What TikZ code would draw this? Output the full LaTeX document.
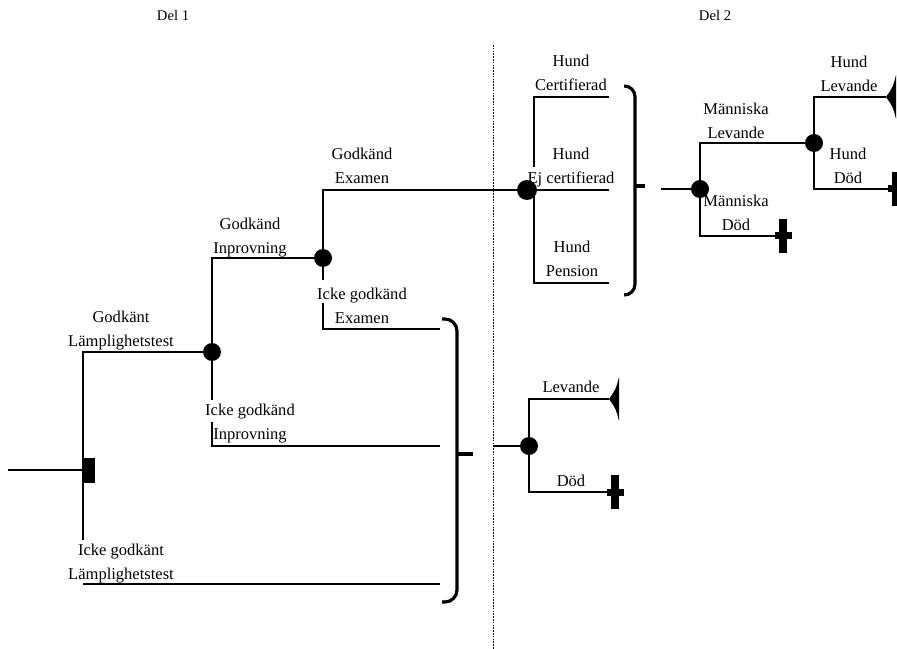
\documentclass[tikz,border=0pt]{standalone}
\usepackage{fontspec}
\setmainfont{Liberation Serif}
\usetikzlibrary{backgrounds}
\newcommand{\lblfont}{\fontsize{12.4pt}{18pt}\selectfont}
\newcommand{\delfont}{\fontsize{11pt}{14pt}\selectfont}
\newcommand{\twoln}[2]{\strut #1\\\strut #2}
\tikzset{
  chance/.style={circle,fill=black,inner sep=0pt,minimum size=13.5pt},
  bigchance/.style={circle,fill=black,inner sep=0pt,minimum size=15pt},
  decision/.style={rectangle,fill=black,inner sep=0pt,minimum width=9pt,minimum height=18.75pt},
  lbl/.style={align=center,inner sep=0pt,font=\lblfont},
  dellbl/.style={inner sep=0pt,font=\delfont},
  branch/.style={line width=1.3pt},
  bracket/.style={line width=2.4pt},
  divider/.style={line width=0.6pt,dash pattern=on 1.2pt off 0.9pt},
  lifemark/.pic={\fill (0,0) .. controls (7,-10) .. (10,-22) -- (10,22) .. controls (7,10) .. (0,0) -- cycle;},
  deathmark/.pic={\fill (-4,-17) rectangle (4,17); \fill (-8.5,-3.5) rectangle (8.5,3.5);}
}
\begin{document}
\begin{tikzpicture}[x=0.75pt,y=-0.75pt]
\useasboundingbox (0,0) rectangle (897,649);

% headings
\node[dellbl] (del1) at (173,17) {\strut Del 1};
\node[dellbl] (del2) at (715,17) {\strut Del 2};

% labels
\node[lbl] (l1) at (121,330) {\twoln{Godkänt}{Lämplighetstest}};
\node[lbl] (l2) at (250,237) {\twoln{Godkänd}{Inprovning}};
\node[lbl] (l3) at (362,167) {\twoln{Godkänd}{Examen}};
\node[lbl] (l4) at (362,307) {\twoln{Icke godkänd}{Examen}};
\node[lbl] (l5) at (250,423) {\twoln{Icke godkänd}{Inprovning}};
\node[lbl] (l6) at (121,563) {\twoln{Icke godkänt}{Lämplighetstest}};
\node[lbl] (l7) at (571,74) {\twoln{Hund}{Certifierad}};
\node[lbl] (l8) at (571,167) {\twoln{Hund}{Ej certifierad}};
\node[lbl] (l9) at (572,260) {\twoln{Hund}{Pension}};
\node[lbl] (l10) at (736,122) {\twoln{Människa}{Levande}};
\node[lbl] (l11) at (736,214) {\twoln{Människa}{Död}};
\node[lbl] (l12) at (849,75) {\twoln{Hund}{Levande}};
\node[lbl] (l13) at (848,167) {\twoln{Hund}{Död}};
\node[lbl] (l14) at (571,388) {\strut Levande};
\node[lbl] (l15) at (571,482) {\strut Död};

% decision and chance nodes
\node[decision] (d) at (89,470) {};
\node[chance] (c1) at (212,352) {};
\node[chance] (c2) at (323,258) {};
\node[bigchance] (c3) at (527,190) {};
\node[chance] (c4) at (529,446) {};
\node[chance] (c5) at (700,189) {};
\node[chance] (c6) at (814,143) {};

% free ends
\coordinate (start) at (8,470);
\coordinate (d1top) at (83,352);
\coordinate (d1bot) at (83,540);
\coordinate (e1) at (83,584);
\coordinate (e2) at (440,584);
\coordinate (c1a) at (212,400);
\coordinate (c1b) at (212,422);
\coordinate (c1c) at (440,446);
\coordinate (c2a) at (323,280);
\coordinate (c2b) at (323,303);
\coordinate (c2c) at (440,329);
\coordinate (h1a) at (534,167);
\coordinate (h1) at (609,97);
\coordinate (h2) at (609,190);
\coordinate (h3a) at (534,190);
\coordinate (h3) at (609,283);
\coordinate (in2) at (493,446);
\coordinate (in3) at (661,189);
\coordinate (t1) at (609,399);
\coordinate (x1) at (615,492);
\coordinate (t2) at (886,97);
\coordinate (x2) at (783,236);
\coordinate (x3) at (896,189);
\coordinate (b1tip) at (473,454);
\coordinate (b2tip) at (645,186);
\coordinate (divtop) at (493,45);
\coordinate (divbot) at (493,649);

\begin{pgfonlayer}{background}
% divider
\draw[divider] (divtop) -- (divbot);
% part 1 branches
\draw[branch] (start) -- (d.west);
\draw[branch] (d1bot) -- (d1top) -- (c1);
\draw[branch] (e1) -- (e2);
\draw[branch] (c1) |- (c2);
\draw[branch] (c1) -- (c1a);
\draw[branch] (c1b) |- (c1c);
\draw[branch] (c2) |- (c3);
\draw[branch] (c2) -- (c2a);
\draw[branch] (c2b) |- (c2c);
% dog branches
\draw[branch] (c3) -- (h2);
\draw[branch] (h1a) |- (h1);
\draw[branch] (h3a) |- (h3);
% part 2 lower
\draw[branch] (in2) -- (c4);
\draw[branch] (c4) |- (t1);
\draw[branch] (c4) |- (x1);
% part 2 upper
\draw[branch] (in3) -- (c5);
\draw[branch] (c5) |- (c6);
\draw[branch] (c5) |- (x2);
\draw[branch] (c6) |- (t2);
\draw[branch] (c6) |- (x3);
% brackets
\draw[bracket,rounded corners=9pt] (442,319) -| (457,460) |- (442,602);
\draw[bracket] (457,454) -- (b1tip);
\draw[bracket,rounded corners=8pt] (625,86) -| (635,190) |- (625,295);
\draw[bracket] (635,186) -- (b2tip);
\end{pgfonlayer}

% terminal marks
\pic at (t1) {lifemark};
\pic at (t2) {lifemark};
\pic at (x1) {deathmark};
\pic at (x2) {deathmark};
\pic at (x3) {deathmark};
\end{tikzpicture}
\end{document}
